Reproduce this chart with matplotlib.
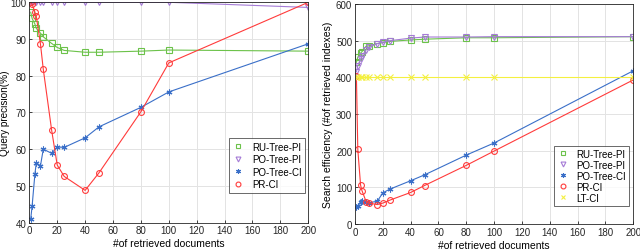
import matplotlib
matplotlib.use("Agg")
import matplotlib.pyplot as plt
from matplotlib.lines import Line2D

plt.rcParams['font.family'] = ['Liberation Sans', 'DejaVu Sans']

# ---- data: left panel (query precision %) ----
x_docs = [1, 2, 4, 5, 8, 10, 16, 20, 25, 40, 50, 80, 100, 200]
ru_tree_pi_prec = [97.3, 95.6, 94.1, 92.9, 91.6, 90.6, 88.8, 87.7, 86.9, 86.4, 86.4, 86.7, 87.0, 86.7]
po_tree_pi_prec = [100, 100, 100, 100, 100, 100, 100, 100, 100, 100, 100, 100, 100, 98.6]
po_tree_ci_prec = [41.0, 44.5, 53.2, 56.3, 55.5, 60.0, 58.9, 60.6, 60.5, 63.1, 66.1, 71.4, 75.6, 88.7]
pr_ci_prec = [100, 99.5, 97.3, 96.2, 88.6, 81.8, 65.2, 55.7, 52.6, 48.8, 53.6, 70.2, 83.5, 100]

# ---- data: right panel (search efficiency, # of retrieved indexes) ----
ru_tree_pi_eff = [441, 455, 466, 470, 485, 486, 492, 495, 498, 502, 504, 508, 508, 511]
po_tree_pi_eff = [415, 432, 450, 458, 475, 482, 492, 496, 500, 507, 510, 510, 511, 511]
po_tree_ci_eff = [45, 50, 60, 62, 60, 58, 62, 85, 95, 118, 134, 188, 221, 418]
pr_ci_eff = [405, 204, 106, 91, 61, 57, 53, 57, 65, 86, 105, 160, 199, 393]
lt_ci_eff = [400, 400, 400, 400, 400, 400, 400, 400, 400, 400, 400, 400, 400, 400]

labels = ['RU-Tree-PI', 'PO-Tree-PI', 'PO-Tree-CI', 'PR-CI', 'LT-CI']
colors = ['#6cc24a', '#a57bd6', '#3a6fc8', '#ff3b3b', '#f4f040']
markers = ['s', 'v', (6, 2, 0), 'o', 'x']

fig = plt.figure(figsize=(6.4, 2.51), dpi=100)
ax1 = fig.add_axes([0.0458, 0.1088, 0.4359, 0.8781])
ax2 = fig.add_axes([0.5547, 0.1036, 0.4348, 0.8764])

def style(ax):
    ax.grid(True, color='#e3e3e3', linewidth=0.7)
    ax.set_axisbelow(True)
    for s in ax.spines.values():
        s.set_color('#262626')
        s.set_linewidth(0.6)
    ax.tick_params(labelsize=7, direction='in', length=2.5, width=0.6, colors='#262626', pad=2)
    ax.set_xlim(0, 200)
    ax.set_xticks(range(0, 201, 20))

def plot_series(ax, ys, idxs):
    for y, i in zip(ys, idxs):
        ax.plot(x_docs, y, color=colors[i], marker=markers[i], markersize=4.2,
                markerfacecolor='none', markeredgewidth=0.8, linewidth=0.8,
                label=labels[i])

plot_series(ax1, [ru_tree_pi_prec, po_tree_pi_prec, po_tree_ci_prec, pr_ci_prec], [0, 1, 2, 3])
style(ax1)
ax1.set_ylim(40, 100)
ax1.set_yticks(range(40, 101, 10))
ax1.set_xlabel('#of retrieved documents', fontsize=7.5, labelpad=2)
ax1.set_ylabel('Query precision(%)', fontsize=7.2, labelpad=0)

plot_series(ax2, [ru_tree_pi_eff, po_tree_pi_eff, po_tree_ci_eff, pr_ci_eff, lt_ci_eff], [0, 1, 2, 3, 4])
style(ax2)
ax2.set_ylim(0, 600)
ax2.set_yticks(range(0, 601, 100))
ax2.set_xlabel('#of retrieved documents', fontsize=7.5, labelpad=2)
ax2.set_ylabel('Search efficiency (#of retrieved indexes)', fontsize=7.5, labelpad=2)

def legend(ax, loc, anchor, spacing, pad):
    handles, labs = ax.get_legend_handles_labels()
    new = [Line2D([], [], color=h.get_color(), marker=h.get_marker(),
                  linestyle='none', markersize=3.5,
                  markerfacecolor='none', markeredgewidth=0.8) for h in handles]
    lg = ax.legend(new, labs, loc=loc, bbox_to_anchor=anchor, fontsize=7,
                   frameon=True, fancybox=False, edgecolor='#262626',
                   handlelength=1.2, handletextpad=0.8, borderpad=pad,
                   labelspacing=spacing, borderaxespad=0)
    lg.get_frame().set_linewidth(0.6)

legend(ax1, 'upper right', (0.99, 0.385), 0.25, 0.4)
legend(ax2, 'upper right', (0.985, 0.355), 0.1, 0.3)

fig.savefig('out.png', dpi=100)
